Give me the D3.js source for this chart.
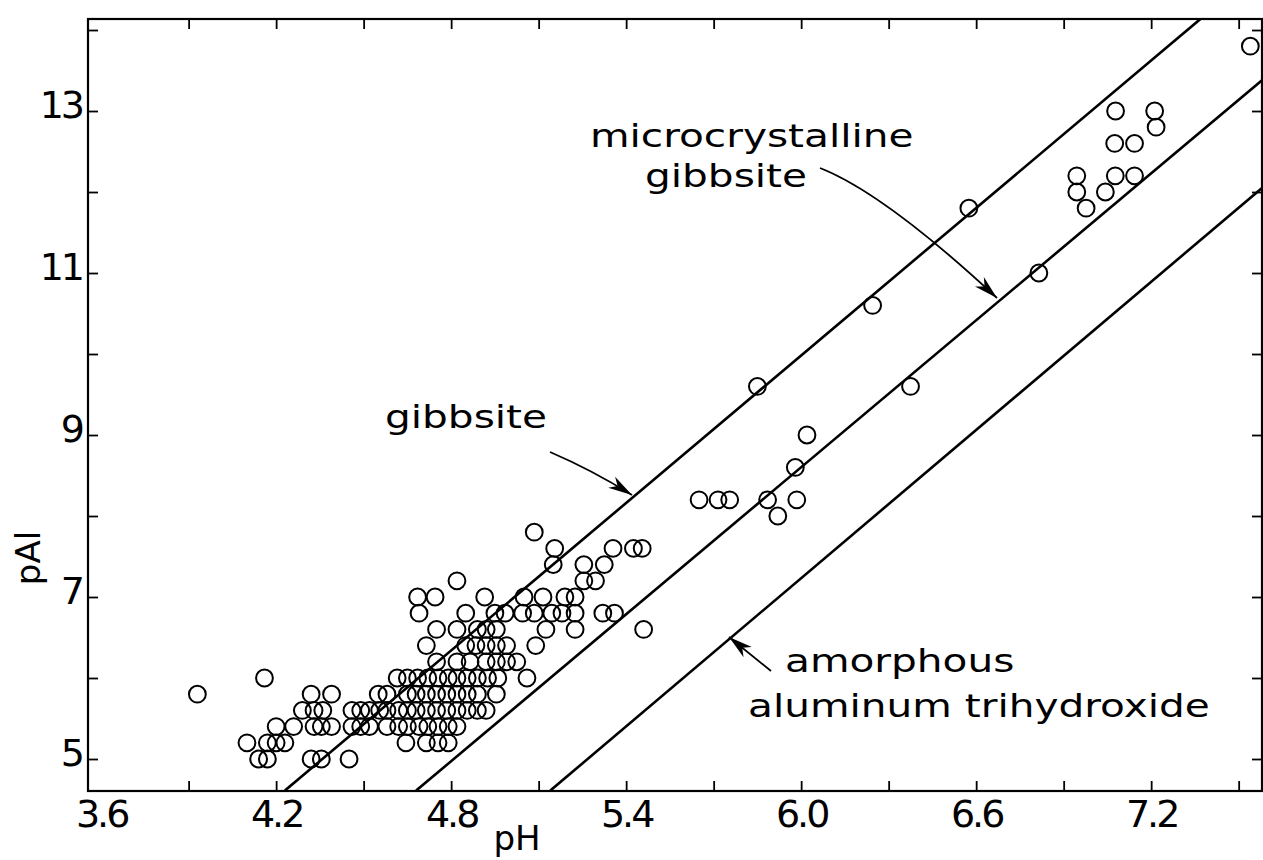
<!DOCTYPE html>
<html><head><meta charset="utf-8">
<script src="https://cdn.jsdelivr.net/npm/d3@7"></script>
<style>
body{margin:0;background:#fff}
svg{display:block}
text{font-family:"DejaVu Sans",sans-serif;fill:#000}
</style>
</head><body>
<svg id="chart" width="1263" height="860"></svg>
<script>
// ---- tick labels ----
const xTickLabels = ["3.6","4.2","4.8","5.4","6.0","6.6","7.2"];
const yTickLabels = ["5","7","9","11","13"];
const xTickMarks = [3.9,4.2,4.5,4.8,5.1,5.4,5.7,6.0,6.3,6.6,6.9,7.2,7.5];
const yTickMarks = [5,6,7,8,9,10,11,12,13,14];

// ---- observed points (pH, pAl) ----
const pH = [
 3.93,4.16,4.10,4.14,4.17,4.17,4.20,4.23,4.20,
 4.32,4.355,4.45,
 4.26,4.33,4.355,4.39,4.46,4.49,4.52,
 4.58,4.62,4.65,4.69,4.72,4.755,4.79,4.82,
 4.645,4.715,4.755,4.79,
 4.29,4.33,4.36,4.46,4.49,4.52,4.555,4.58,4.62,4.65,4.68,4.715,4.75,4.785,4.82,4.855,4.89,4.92,
 4.32,4.39,4.55,4.58,4.65,4.68,4.715,4.75,4.785,4.82,4.855,4.89,4.955,
 4.615,4.65,4.685,4.72,4.755,4.79,4.82,4.855,4.89,4.925,4.96,5.06,
 4.75,4.82,4.865,4.92,4.955,4.99,5.025,
 4.715,4.85,4.885,4.92,4.955,4.99,5.09,
 4.75,4.82,4.89,4.92,4.955,5.125,5.225,5.46,
 4.69,4.85,4.95,4.985,5.045,5.085,5.145,5.18,5.225,5.32,5.36,
 4.685,4.745,4.915,5.05,5.115,5.19,5.225,
 4.82,5.255,5.295,
 5.15,5.255,5.325,
 5.155,5.355,5.425,5.455,
 5.085,
 5.85,5.65,5.715,5.755,6.02,5.98,5.885,5.92,5.985,
 6.245,6.375,6.575,6.815,
 6.945,6.945,6.977,7.043,7.077,7.143,7.075,7.143,7.217,7.078,7.212,7.54
];
const pAl = [
 5.8,6.0,5.2,5.0,5.0,5.2,5.2,5.2,5.4,
 5.0,5.0,5.0,
 5.4,5.4,5.4,5.4,5.4,5.4,5.4,
 5.4,5.4,5.4,5.4,5.4,5.4,5.4,5.4,
 5.2,5.2,5.2,5.2,
 5.6,5.6,5.6,5.6,5.6,5.6,5.6,5.6,5.6,5.6,5.6,5.6,5.6,5.6,5.6,5.6,5.6,5.6,
 5.8,5.8,5.8,5.8,5.8,5.8,5.8,5.8,5.8,5.8,5.8,5.8,5.8,
 6.0,6.0,6.0,6.0,6.0,6.0,6.0,6.0,6.0,6.0,6.0,6.0,
 6.2,6.2,6.2,6.2,6.2,6.2,6.2,
 6.4,6.4,6.4,6.4,6.4,6.4,6.4,
 6.6,6.6,6.6,6.6,6.6,6.6,6.6,6.6,
 6.8,6.8,6.8,6.8,6.8,6.8,6.8,6.8,6.8,6.8,6.8,
 7.0,7.0,7.0,7.0,7.0,7.0,7.0,
 7.2,7.2,7.2,
 7.4,7.4,7.4,
 7.6,7.6,7.6,7.6,
 7.8,
 9.6,8.2,8.2,8.2,9.0,8.6,8.2,8.0,8.2,
 10.6,9.6,11.8,11.0,
 12.2,12.0,11.8,12.0,12.2,12.2,12.6,12.6,12.8,13.0,13.0,13.8
];

// ---- solubility lines (end points pH, pAl) ----
const gibbsitePH = [4.23, 7.37];
const gibbsitePAl = [4.61, 14.14];
const microPH = [4.68, 7.58];
const microPAl = [4.61, 13.38];
const amorphPH = [5.14, 7.58];
const amorphPAl = [4.61, 12.05];

const svg = d3.select("#chart");
const L = 88, R = 1262, T = 19, B = 791;
const x = d3.scaleLinear().domain([3.555, 7.58]).range([L, R]);
const y = d3.scaleLinear().domain([4.605, 14.136]).range([B, T]);

const defs = svg.append("defs");
defs.append("clipPath").attr("id","clip")
  .append("rect").attr("x",L).attr("y",T).attr("width",R-L).attr("height",B-T);
defs.append("marker").attr("id","arrow").attr("markerUnits","userSpaceOnUse")
  .attr("viewBox","-24 -8 26 16").attr("refX",0).attr("refY",0)
  .attr("markerWidth",26).attr("markerHeight",16).attr("orient","auto")
  .append("path").attr("d","M0,0 L-24,-6.5 L-17,0 L-24,6.5 Z").attr("fill","#000");

// frame
svg.append("rect").attr("x",L).attr("y",T).attr("width",R-L).attr("height",B-T)
  .attr("fill","none").attr("stroke","#000").attr("stroke-width",2.2);

// tick marks (inward) on all four sides
function styleAxis(g){
  g.select(".domain").remove();
  g.selectAll(".tick line").attr("stroke","#000").attr("stroke-width",1.8);
}
svg.append("g").attr("transform",`translate(0,${B})`)
  .call(d3.axisBottom(x).tickValues(xTickMarks).tickSize(-10).tickFormat("")).call(styleAxis);
svg.append("g").attr("transform",`translate(0,${T})`)
  .call(d3.axisTop(x).tickValues(xTickMarks).tickSize(-10).tickFormat("")).call(styleAxis);
svg.append("g").attr("transform",`translate(${L},0)`)
  .call(d3.axisLeft(y).tickValues(yTickMarks).tickSize(-10).tickFormat("")).call(styleAxis);
svg.append("g").attr("transform",`translate(${R},0)`)
  .call(d3.axisRight(y).tickValues(yTickMarks).tickSize(-10).tickFormat("")).call(styleAxis);

// tick labels
const xl = svg.append("g").attr("transform",`translate(0,${B})`)
  .call(d3.axisBottom(x).tickValues(xTickLabels.map(Number)).tickSize(0).tickPadding(0)
    .tickFormat((d,i)=>xTickLabels[i]));
xl.select(".domain").remove();
xl.selectAll("text").attr("font-size",38).attr("font-family","DejaVu Sans")
  .attr("letter-spacing",-3).attr("dy",null).attr("y",36).attr("fill","#000");

const yl = svg.append("g").attr("transform",`translate(${L},0)`)
  .call(d3.axisLeft(y).tickValues(yTickLabels.map(Number)).tickSize(0).tickPadding(0)
    .tickFormat((d,i)=>yTickLabels[i]));
yl.select(".domain").remove();
yl.selectAll("text").attr("font-size",38).attr("font-family","DejaVu Sans")
  .attr("letter-spacing",-3).attr("dy",null).attr("y",6).attr("x",-6).attr("fill","#000");

// axis titles
svg.append("text").attr("x",517).attr("y",850).attr("text-anchor","middle")
  .attr("font-size",34).text("pH");
svg.append("text").attr("transform","translate(40,558) rotate(-90)").attr("text-anchor","middle")
  .attr("font-size",34).text("pAl");

// solubility lines
const line = d3.line().x(d=>x(d[0])).y(d=>y(d[1]));
const lines = [d3.zip(gibbsitePH,gibbsitePAl), d3.zip(microPH,microPAl), d3.zip(amorphPH,amorphPAl)];
svg.append("g").attr("clip-path","url(#clip)").selectAll("path").data(lines).join("path")
  .attr("d",line).attr("fill","none").attr("stroke","#000").attr("stroke-width",2.6);

// data circles
svg.append("g").attr("clip-path","url(#clip)").selectAll("circle").data(d3.zip(pH,pAl)).join("circle")
  .attr("cx",d=>x(d[0])).attr("cy",d=>y(d[1])).attr("r",8.4)
  .attr("fill","none").attr("stroke","#000").attr("stroke-width",2);

// annotations (wide lettering, stretched horizontally)
const ann = svg.append("g").attr("font-size",32);
function label(txt, x0, y0){
  ann.append("text").attr("transform",`translate(${x0},${y0}) scale(1.27,1)`).text(txt);
}
label("microcrystalline", 590, 147);
label("gibbsite", 645, 187);
label("gibbsite", 385, 428);
label("amorphous", 785, 672);
label("aluminum trihydroxide", 748, 717);

const arrows = svg.append("g").attr("fill","none").attr("stroke","#000").attr("stroke-width",1.8);
arrows.append("path").attr("d","M550,452 Q592,470 632,495").attr("marker-end","url(#arrow)");
arrows.append("path").attr("d","M820,168 Q884,193 997,298").attr("marker-end","url(#arrow)");
arrows.append("path").attr("d","M771,671 L729,637").attr("marker-end","url(#arrow)");
</script>
</body></html>
